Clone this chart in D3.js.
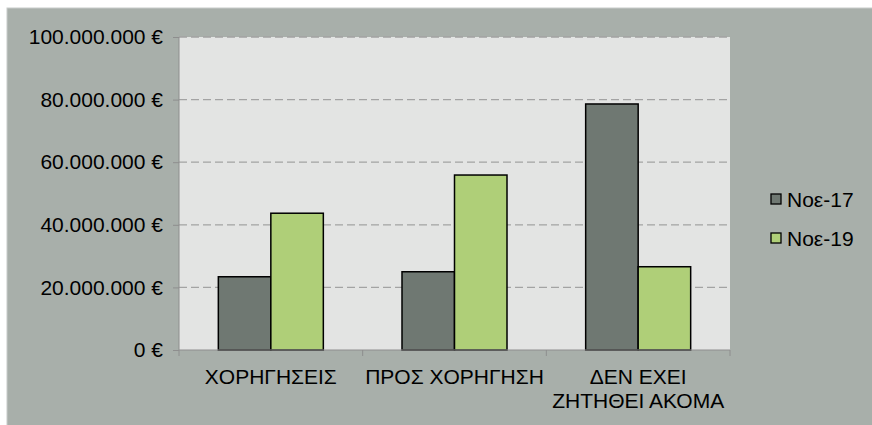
<!DOCTYPE html>
<meta charset="utf-8">
<style>
body { margin: 0; background: #fff; }
text { font-family: "Liberation Sans", Arial, sans-serif; fill: #000; }
.grid line { stroke: #a3a3a3; stroke-dasharray: 8,4; stroke-width: 1.3; }
</style>
<body>
<svg width="872" height="425"></svg>
<script src="https://d3js.org/d3.v7.min.js"></script>
<script>

var categories = ["ΧΟΡΗΓΗΣΕΙΣ", "ΠΡΟΣ ΧΟΡΗΓΗΣΗ", "ΔΕΝ ΕΧΕΙ\nΖΗΤΗΘΕΙ ΑΚΟΜΑ"];
var seriesNames = ["Noε-17", "Noε-19"];
var nov17 = [23400000, 25000000, 78600000];
var nov19 = [43700000, 55900000, 26600000];
var yTicks = [0, 20000000, 40000000, 60000000, 80000000, 100000000];
var colors = ["#6f7872", "#afcf78"];

var svg = d3.select("svg");

var margin = {top: 37, left: 179, right: 142, bottom: 75};
var width = 872 - margin.left - margin.right,
    height = 425 - margin.top - margin.bottom;

// outer chart area
svg.append("rect")
    .attr("x", 7).attr("y", 8)
    .attr("width", 872).attr("height", 425)
    .attr("fill", "#a8afaa")
    .attr("stroke", "#c8ccc9");

var g = svg.append("g")
    .attr("transform", "translate(" + margin.left + "," + margin.top + ")");

g.append("rect")
    .attr("width", width).attr("height", height)
    .attr("fill", "#e3e4e3");

var x = d3.scaleBand().domain(categories).range([0, width]);
var x1 = d3.scaleBand().domain(seriesNames).range([0, 105]);
var y = d3.scaleLinear().domain([0, 100000000]).range([height, 0]);

var fmt = function(v) { return d3.format(",")(v).replace(/,/g, ".") + " €"; };

g.append("g")
    .attr("class", "grid")
  .selectAll("line")
  .data(yTicks.slice(1))
  .enter().append("line")
    .attr("x1", 0).attr("x2", width)
    .attr("y1", function(d) { return y(d); })
    .attr("y2", function(d) { return y(d); });

var rows = categories.map(function(c, i) {
  return {cat: c, values: [nov17[i], nov19[i]]};
});

var groups = g.selectAll(".group")
  .data(rows)
  .enter().append("g")
    .attr("transform", function(d) {
      return "translate(" + (x(d.cat) + x.bandwidth() / 2 - 52.5) + ",0)";
    });

groups.selectAll("rect")
  .data(function(d) { return d.values.map(function(v, j) { return {s: seriesNames[j], v: v, j: j}; }); })
  .enter().append("rect")
    .attr("x", function(d) { return x1(d.s); })
    .attr("width", x1.bandwidth())
    .attr("y", function(d) { return y(d.v); })
    .attr("height", function(d) { return height - y(d.v); })
    .attr("fill", function(d) { return colors[d.j]; })
    .attr("stroke", "#000")
    .attr("stroke-width", 1.5);

// y axis
var yAxis = g.append("g")
    .call(d3.axisLeft(y).tickValues(yTicks).tickFormat(fmt).tickSize(6).tickPadding(10));
yAxis.selectAll("text").style("font-size", "21px").attr("fill", "#000");
yAxis.selectAll("line").attr("stroke", "#8e8e8e");
yAxis.select(".domain").attr("stroke", "#8e8e8e").attr("d", "M0,0V" + height);

// x axis
var xAxis = g.append("g")
    .attr("transform", "translate(0," + height + ")");
xAxis.append("line")
    .attr("x1", 0).attr("x2", width)
    .attr("stroke", "#8e8e8e");
xAxis.selectAll(".tk")
  .data(d3.range(categories.length + 1))
  .enter().append("line")
    .attr("x1", function(i) { return i * x.step(); })
    .attr("x2", function(i) { return i * x.step(); })
    .attr("y1", 0).attr("y2", 6)
    .attr("stroke", "#8e8e8e");

xAxis.selectAll(".lbl")
  .data(categories)
  .enter().append("text")
    .attr("text-anchor", "middle")
    .style("font-size", "21px")
    .attr("transform", function(d) { return "translate(" + (x(d) + x.bandwidth() / 2) + ",33.5)"; })
  .selectAll("tspan")
  .data(function(d) { return d.split("\n"); })
  .enter().append("tspan")
    .attr("x", 0)
    .attr("y", function(d, i) { return i * 24; })
    .text(function(d) { return d; });

// legend
var legend = svg.append("g")
  .selectAll("g")
  .data(seriesNames)
  .enter().append("g")
    .attr("transform", function(d, i) { return "translate(771," + (194 + i * 39) + ")"; });

legend.append("rect")
    .attr("width", 10).attr("height", 10)
    .attr("fill", function(d, i) { return colors[i]; })
    .attr("stroke", "#000")
    .attr("stroke-width", 1.3);

legend.append("text")
    .attr("x", 16).attr("y", 12.5)
    .style("font-size", "21px")
    .text(function(d) { return d; });

</script>
</body>
